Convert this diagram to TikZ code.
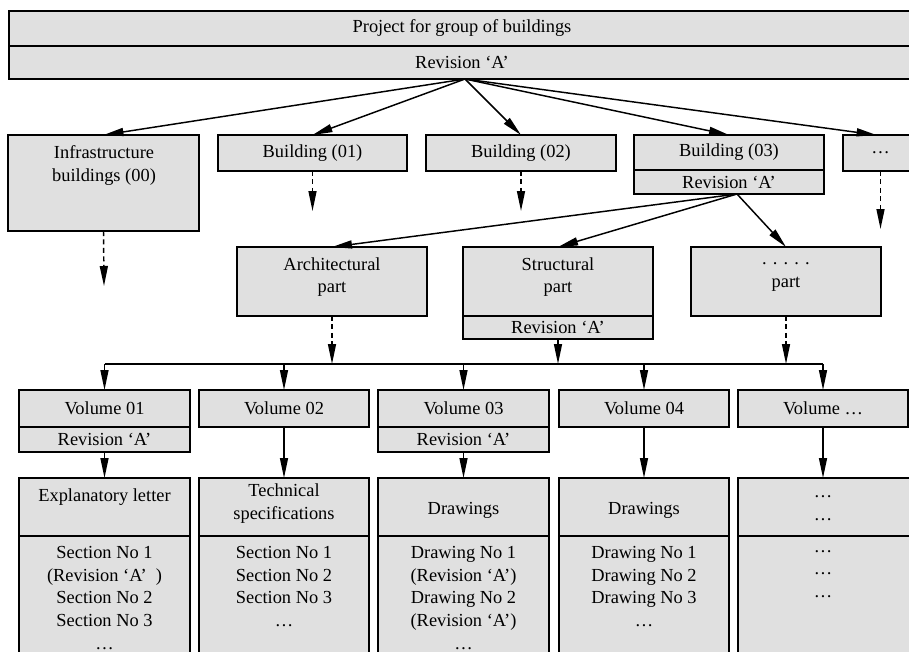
\documentclass[tikz,border=0pt]{standalone}
\usepackage{fontspec}
\setmainfont{Liberation Serif}
\usetikzlibrary{arrows.meta}
\definecolor{boxgray}{RGB}{224,224,224}
\begin{document}
\begin{tikzpicture}[x=0.75pt,y=-0.75pt,
  txt/.style={align=center, inner sep=0pt, font=\fontsize{13.8}{16.9}\selectfont},
  bx/.style 2 args={draw, fill=boxgray, line width=1.2pt, inner sep=0pt, outer sep=0pt,
     minimum width=#1*0.75pt, minimum height=#2*0.75pt, anchor=north west, txt},
  arr/.style={line width=1.1pt, -{Triangle[length=15pt,width=6pt]}},
  darr/.style={arr, dash pattern=on 3.75pt off 2.6pt},
  busline/.style={line width=1.1pt}]
\useasboundingbox (0,0) rectangle (909,651);
\clip (0,0) rectangle (909,651);
% top
\node[bx={906}{35}] (top1) at (9,11) {Project for group of buildings};
\node[bx={906}{33}] (top2) at (9,46) {Revision ‘A’};
% buildings
\node[bx={191}{96}] (infra) at (8,135) {};
\node[txt] (infratxt) at (104,165.5) {Infrastructure\\buildings (00)};
\node[bx={189}{36}] (b01) at (218,135) {Building (01)};
\node[bx={190}{36}] (b02) at (426,135) {Building (02)};
\node[bx={190}{35}] (b03) at (634,135) {Building (03)};
\node[bx={190}{24}] (b03r) at (634,170) {Revision ‘A’};
\node[bx={75}{36}] (bdots) at (843,135) {…};
% parts
\node[bx={190}{69}] (arch) at (237,247) {};
\node[txt] (archtxt) at (332,277) {Architectural\\part};
\node[bx={190}{69}] (struct) at (463,247) {};
\node[txt] (structtxt) at (558,277) {Structural\\part};
\node[bx={190}{23}] (structr) at (463,316) {Revision ‘A’};
\node[bx={190}{69}] (dpart) at (691,247) {};
\node[txt] (dparttxt) at (786,277) {. . . . .\\part};
% volumes
\node[bx={171}{37}] (vol01) at (19,390) {Volume 01};
\node[bx={171}{25}] (vol01r) at (19,427) {Revision ‘A’};
\node[bx={170}{37}] (vol02) at (199,390) {Volume 02};
\node[bx={171}{37}] (vol03) at (378,390) {Volume 03};
\node[bx={171}{25}] (vol03r) at (378,427) {Revision ‘A’};
\node[bx={170}{37}] (vol04) at (559,390) {Volume 04};
\node[bx={170}{37}] (vol05) at (738,390) {Volume …};
% contents
\node[bx={171}{58}] (h1) at (19,478) {};
\node[bx={171}{130}] (c1) at (19,536) {};
\node[bx={170}{58}] (h2) at (199,478) {};
\node[bx={170}{130}] (c2) at (199,536) {};
\node[bx={171}{58}] (h3) at (378,478) {};
\node[bx={171}{130}] (c3) at (378,536) {};
\node[bx={170}{58}] (h4) at (559,478) {};
\node[bx={170}{130}] (c4) at (559,536) {};
\node[bx={180}{58}] (h5) at (738,478) {};
\node[bx={180}{130}] (c5) at (738,536) {};
\node[txt] (h1t) at (104.5,497) {Explanatory letter};
\node[txt] (h2t) at (284,503.5) {Technical\\specifications};
\node[txt] (h3t) at (463.5,510) {Drawings};
\node[txt] (h4t) at (644,510) {Drawings};
\node[txt] (h5t) at (823,508) {…\\…};
\node[txt] (c1t) at (104.5,598) {Section No 1\\(Revision ‘A’\ \ )\\Section No 2\\Section No 3\\…};
\node[txt] (c2t) at (284,586.5) {Section No 1\\Section No 2\\Section No 3\\…};
\node[txt] (c3t) at (463.5,598) {Drawing No 1\\(Revision ‘A’)\\Drawing No 2\\(Revision ‘A’)\\…};
\node[txt] (c4t) at (644,586.5) {Drawing No 1\\Drawing No 2\\Drawing No 3\\…};
\node[txt] (c5t) at (823,574) {…\\…\\…};
% connectors from the project
\coordinate (hub) at (465,79);
\draw[arr] (hub) -- (infra.north);
\draw[arr] (hub) -- (b01.north);
\draw[arr] (hub) -- (b02.north);
\draw[arr] (hub) -- (b03.north);
\draw[arr] (hub) -- ([xshift=-3pt]bdots.north);
% dashed stubs
\coordinate (infraend) at (104,286);
\coordinate (b01end) at (312.5,211);
\coordinate (b02end) at (521,211);
\coordinate (bdotsend) at (880.5,229);
\draw[darr] (infra.south) -- (infraend);
\draw[darr] (b01.south) -- (b01end);
\draw[darr] (b02.south) -- (b02end);
\draw[darr] (bdots.south) -- (bdotsend);
% building 03 to parts
\coordinate (b03hub) at (737,194);
\draw[arr] (b03hub) -- (arch.north);
\draw[arr] (b03hub) -- (struct.north);
\draw[arr] (b03hub) -- (dpart.north);
% bus
\coordinate (busL) at (104.5,364);
\coordinate (busR) at (823,364);
\draw[busline] (busL) -- (busR);
\draw[darr] (arch.south) -- (arch.south |- busL);
\draw[arr] (structr.south) -- (structr.south |- busL);
\draw[darr] (dpart.south) -- (dpart.south |- busL);
\draw[arr] (vol01.north |- busL) -- (vol01.north);
\draw[arr] (vol02.north |- busL) -- (vol02.north);
\draw[arr] (vol03.north |- busL) -- (vol03.north);
\draw[arr] (vol04.north |- busL) -- (vol04.north);
\draw[arr] (busR) -- (vol05.north);
% volumes to contents
\draw[arr] (vol01r.south) -- (h1.north);
\draw[arr] (vol02.south) -- (h2.north);
\draw[arr] (vol03r.south) -- (h3.north);
\draw[arr] (vol04.south) -- (h4.north);
\draw[arr] (vol05.south) -- (vol05.south |- h5.north);
\end{tikzpicture}
\end{document}
